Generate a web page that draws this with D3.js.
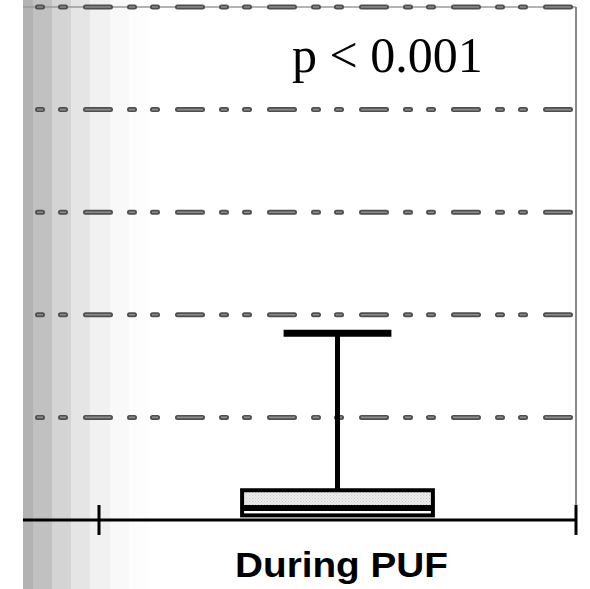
<!DOCTYPE html>
<html>
<head>
<meta charset="utf-8">
<script src="https://cdn.jsdelivr.net/npm/d3@7"></script>
<style>
  html, body { margin: 0; padding: 0; background: #fff; }
  svg { display: block; }
</style>
</head>
<body>
<svg id="chart" width="590" height="589"></svg>
<script>
// Category and box-plot summary values
const categories = ["During PUF"];
const q1Values = [0.045];
const medianValues = [0.117];
const q3Values = [0.29];
const whiskerHighValues = [1.82];
const yTicks = [1, 2, 3, 4, 5];
const pLabel = "p < 0.001";

const width = 590, height = 589;
const plotLeft = 23, plotRight = 576, plotTop = 7, plotBottom = 520;

const svg = d3.select("#chart");

const x = d3.scaleBand().domain(categories).range([99, 576]).padding(0);
const y = d3.scaleLinear().domain([0, 5]).range([plotBottom, plotTop]);

// Shaded strip on the left edge of the plot area
const shades = ["#b3b3b3", "#c1c1c1", "#d4d4d4", "#e5e5e5", "#f1f1f1", "#f9f9f9", "#fdfdfd"];
const shadeEdges = [23, 33, 52, 71, 90, 110, 129, 148];
svg.append("g").selectAll("rect").data(shades).join("rect")
  .attr("x", (d, i) => shadeEdges[i])
  .attr("y", 0)
  .attr("width", (d, i) => shadeEdges[i + 1] - shadeEdges[i])
  .attr("height", height)
  .attr("fill", d => d);

// Top frame line
svg.append("line")
  .attr("x1", plotLeft).attr("x2", plotRight)
  .attr("y1", y(5)).attr("y2", y(5))
  .attr("stroke", "#9a9a9a").attr("stroke-width", 1.5);

// Dash-dot gridlines
const grid = svg.append("g");
grid.selectAll("line.outer").data(yTicks).join("line")
  .attr("class", "outer")
  .attr("x1", 35).attr("x2", plotRight)
  .attr("y1", d => y(d)).attr("y2", d => y(d))
  .attr("stroke", "#4f4f4f").attr("stroke-width", 5)
  .attr("stroke-linecap", "round")
  .attr("stroke-dasharray", "5,18,5,20,25,19")
  .attr("stroke-dashoffset", -2.5);
grid.selectAll("line.inner").data(yTicks).join("line")
  .attr("class", "inner")
  .attr("x1", 35).attr("x2", plotRight)
  .attr("y1", d => y(d)).attr("y2", d => y(d))
  .attr("stroke", "#8c8c8c").attr("stroke-width", 1.6)
  .attr("stroke-dasharray", "6,17,6,19,26,18")
  .attr("stroke-dashoffset", -2);

// Right frame line
svg.append("line")
  .attr("x1", plotRight).attr("x2", plotRight)
  .attr("y1", y(5)).attr("y2", plotBottom)
  .attr("stroke", "#8a8a8a").attr("stroke-width", 2);

// Stipple fill for the upper half of the box
const defs = svg.append("defs");
const pat = defs.append("pattern").attr("id", "stipple")
  .attr("width", 3).attr("height", 3).attr("patternUnits", "userSpaceOnUse");
pat.append("rect").attr("width", 3).attr("height", 3).attr("fill", "#ececec");
pat.append("rect").attr("width", 1).attr("height", 1).attr("fill", "#c8c8c8");
pat.append("rect").attr("x", 1.5).attr("y", 1.5).attr("width", 1).attr("height", 1).attr("fill", "#d0d0d0");

// Box plots
const boxes = svg.append("g").selectAll("g").data(categories).join("g");
const boxW = x.bandwidth() * 0.4;
const capW = x.bandwidth() * 0.226;
const cx = d => x(d) + x.bandwidth() / 2;

// whisker
boxes.append("line")
  .attr("x1", d => cx(d)).attr("x2", d => cx(d))
  .attr("y1", (d, i) => y(q3Values[i])).attr("y2", (d, i) => y(whiskerHighValues[i]))
  .attr("stroke", "#000").attr("stroke-width", 5);
boxes.append("line")
  .attr("x1", d => cx(d) - capW / 2).attr("x2", d => cx(d) + capW / 2)
  .attr("y1", (d, i) => y(whiskerHighValues[i])).attr("y2", (d, i) => y(whiskerHighValues[i]))
  .attr("stroke", "#000").attr("stroke-width", 7);

// upper part (median to Q3), stippled
boxes.append("rect")
  .attr("x", d => cx(d) - boxW / 2)
  .attr("y", (d, i) => y(q3Values[i]))
  .attr("width", boxW)
  .attr("height", (d, i) => y(medianValues[i]) - y(q3Values[i]))
  .attr("fill", "url(#stipple)");
// lower part (Q1 to median), white
boxes.append("rect")
  .attr("x", d => cx(d) - boxW / 2)
  .attr("y", (d, i) => y(medianValues[i]))
  .attr("width", boxW)
  .attr("height", (d, i) => y(q1Values[i]) - y(medianValues[i]))
  .attr("fill", "#fff");
// outline
boxes.append("rect")
  .attr("x", d => cx(d) - boxW / 2)
  .attr("y", (d, i) => y(q3Values[i]))
  .attr("width", boxW)
  .attr("height", (d, i) => y(q1Values[i]) - y(q3Values[i]))
  .attr("fill", "none").attr("stroke", "#000").attr("stroke-width", 4);
// median
boxes.append("line")
  .attr("x1", d => cx(d) - boxW / 2).attr("x2", d => cx(d) + boxW / 2)
  .attr("y1", (d, i) => y(medianValues[i])).attr("y2", (d, i) => y(medianValues[i]))
  .attr("stroke", "#000").attr("stroke-width", 6);

// Category axis along the baseline
svg.append("line")
  .attr("x1", plotLeft).attr("x2", plotRight)
  .attr("y1", plotBottom).attr("y2", plotBottom)
  .attr("stroke", "#000").attr("stroke-width", 3);
const boundaries = [x.range()[0], x.range()[1]];
svg.append("g").selectAll("line").data(boundaries).join("line")
  .attr("x1", d => d).attr("x2", d => d)
  .attr("y1", plotBottom - 15).attr("y2", plotBottom + 15)
  .attr("stroke", "#000").attr("stroke-width", 3);

svg.append("g").selectAll("text").data(categories).join("text")
  .attr("x", d => cx(d) + 4)
  .attr("y", 577)
  .attr("text-anchor", "middle")
  .attr("font-family", "'Liberation Sans', Arial, sans-serif")
  .attr("font-weight", "bold")
  .attr("font-size", 35)
  .attr("textLength", 213)
  .attr("lengthAdjust", "spacingAndGlyphs")
  .attr("fill", "#000")
  .text(d => d);

// Significance annotation
svg.append("text")
  .attr("x", 292).attr("y", 72)
  .attr("font-family", "'Liberation Serif', 'Times New Roman', serif")
  .attr("font-size", 50)
  .attr("fill", "#000")
  .text(pLabel);
</script>
</body>
</html>
